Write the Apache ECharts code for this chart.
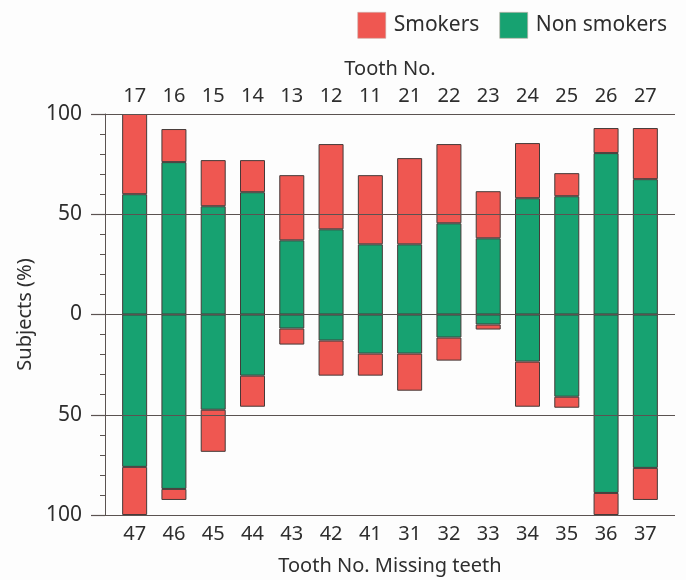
<!DOCTYPE html>
<html>
<head>
<meta charset="utf-8">
<script src="https://cdn.jsdelivr.net/npm/echarts@6/dist/echarts.min.js"></script>
<style>
  html, body { margin: 0; padding: 0; background: #fdfdfd; }
  #chart { width: 686px; height: 580px; }
</style>
</head>
<body>
<div id="chart"></div>
<script>
// Tick labels (tooth numbers)
const upperTeeth = ['17','16','15','14','13','12','11','21','22','23','24','25','26','27'];
const lowerTeeth = ['47','46','45','44','43','42','41','31','32','33','34','35','36','37'];

// Upper teeth (plotted upward, %)
const upperNonSmokers = [60, 76, 54, 61, 37, 42.5, 35, 35, 45.5, 38, 58, 59, 80.5, 67.5];
const upperSmokers    = [40, 16.5, 23, 16, 32.5, 42.5, 34.5, 43, 39.5, 23.5, 27.5, 11.5, 12.5, 25.5];

// Lower teeth (plotted downward, %)
const lowerNonSmokers = [76, 87, 47.5, 30.5, 7, 13, 19.5, 19.5, 11.5, 5, 23.5, 41, 89, 76.5];
const lowerSmokers    = [24, 5.5, 21, 15.5, 8, 17.5, 11, 18.5, 11.5, 2.5, 22.5, 5.5, 11, 16];

const yTicks = [-100, -50, 0, 50, 100];

const RED = '#ef5751';
const GREEN = '#17a271';
const BORDER = '#453a38';
const LINE = '#5b5351';
const TEXT = '#2e2e2e';
const FONT = 'Noto Sans';

const chart = echarts.init(document.getElementById('chart'), null, { renderer: 'canvas' });

const barStyle = (c) => ({ color: c, borderColor: BORDER, borderWidth: 1 });

chart.setOption({
  backgroundColor: '#fdfdfd',
  textStyle: { fontFamily: FONT, color: TEXT },
  animation: false,
  legend: {
    data: ['Smokers', 'Non smokers'],
    right: 14, top: 7,
    itemWidth: 28, itemHeight: 26, itemGap: 20,
    icon: 'rect',
    itemStyle: { borderColor: '#c9a9a5', borderWidth: 0.6 },
    textStyle: { fontSize: 21, color: TEXT, fontFamily: FONT, padding: [0, 0, 0, 3] }
  },
  grid: [
    { left: 115, right: 21, top: 114, bottom: 65, outerBoundsMode: 'none', containLabel: false },
    { left: 105, right: 11, top: 114, bottom: 65, outerBoundsMode: 'none', containLabel: false }
  ],
  xAxis: [
    {
      type: 'category', gridIndex: 0, position: 'bottom', data: lowerTeeth,
      axisLine: { show: false }, axisTick: { show: false },
      axisLabel: { fontSize: 20, color: TEXT, margin: 9, fontFamily: FONT },
      name: 'Tooth No. Missing teeth', nameLocation: 'middle', nameGap: 41,
      nameTextStyle: { fontSize: 20, color: TEXT, fontFamily: FONT }
    },
    {
      type: 'category', gridIndex: 0, position: 'top', data: upperTeeth,
      axisLine: { show: false }, axisTick: { show: false },
      axisLabel: { fontSize: 20, color: TEXT, margin: 8, fontFamily: FONT },
      name: 'Tooth No.', nameLocation: 'middle', nameGap: 35,
      nameTextStyle: { fontSize: 20, color: TEXT, fontFamily: FONT }
    },
    { type: 'value', gridIndex: 1, show: false, min: 0, max: 1 }
  ],
  yAxis: [
    {
      type: 'value', gridIndex: 0, min: -100, max: 100, interval: 50, show: false
    },
    {
      type: 'value', gridIndex: 1, min: -100, max: 100, interval: 50, z: 10,
      axisLine: { show: true, lineStyle: { color: LINE, width: 1 } },
      axisTick: { show: true, length: 14, lineStyle: { color: LINE, width: 1.2 } },
      minorTick: { show: true, splitNumber: 5, length: 5, lineStyle: { color: LINE, width: 1 } },
      splitLine: { show: true, lineStyle: { color: LINE, width: 1.2 } },
      axisLabel: {
        fontSize: 21, color: TEXT, margin: 23, fontFamily: FONT,
        customValues: yTicks,
        formatter: (v) => String(Math.abs(v))
      },
      name: 'Subjects (%)', nameLocation: 'middle', nameGap: 64, nameRotate: 90,
      nameTextStyle: { fontSize: 20, color: TEXT, fontFamily: FONT }
    }
  ],
  series: [
    {
      name: 'Non smokers', type: 'bar', xAxisIndex: 0, yAxisIndex: 0, stack: 'all', z: 1,
      barWidth: 25, data: upperNonSmokers, itemStyle: barStyle(GREEN)
    },
    {
      name: 'Smokers', type: 'bar', xAxisIndex: 0, yAxisIndex: 0, stack: 'all', z: 1,
      barWidth: 25, data: upperSmokers, itemStyle: barStyle(RED)
    },
    {
      name: 'Non smokers', type: 'bar', xAxisIndex: 0, yAxisIndex: 0, stack: 'all', z: 1,
      barWidth: 25, data: lowerNonSmokers.map(v => -v), itemStyle: barStyle(GREEN)
    },
    {
      name: 'Smokers', type: 'bar', xAxisIndex: 0, yAxisIndex: 0, stack: 'all', z: 1,
      barWidth: 25, data: lowerSmokers.map(v => -v), itemStyle: barStyle(RED)
    }
  ]
});
</script>
</body>
</html>
